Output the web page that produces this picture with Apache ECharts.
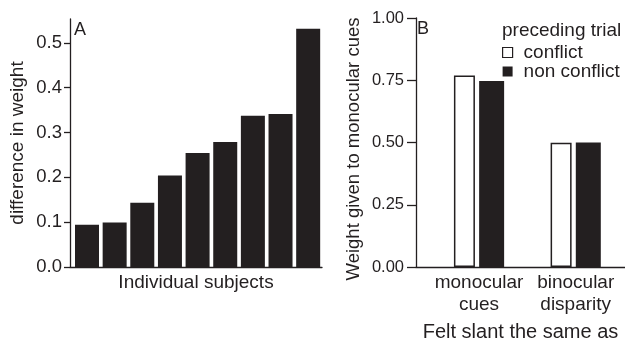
<!DOCTYPE html>
<html>
<head>
<meta charset="utf-8">
<script src="https://cdn.jsdelivr.net/npm/echarts@6/dist/echarts.min.js"></script>
<style>
  html, body { margin: 0; padding: 0; background: #fff; }
  #chart { width: 625px; height: 340px; }
</style>
</head>
<body>
<div id="chart"></div>
<script>
// Panel A: per-subject difference in weight, sorted ascending
const subjects = [1, 2, 3, 4, 5, 6, 7, 8, 9];
const weightDiff = [0.094, 0.099, 0.143, 0.204, 0.254, 0.279, 0.337, 0.341, 0.531];
const ticksA = [0, 0.1, 0.2, 0.3, 0.4, 0.5];

// Panel B: weight given to monocular cues, by felt slant and preceding trial
const slantCategories = ['monocular\ncues', 'binocular\ndisparity'];
const slantPositions = [1, 2];
const conflictWeights = [0.769, 0.499];
const nonConflictWeights = [0.747, 0.500];
const ticksB = [0, 0.25, 0.5, 0.75, 1];

const INK = '#231f20';
const FONT = 'Liberation Sans, Arial, Helvetica, sans-serif';

const chart = echarts.init(document.getElementById('chart'), null, { renderer: 'canvas' });

const axisLine = { show: true, lineStyle: { color: INK, width: 1.3 } };
const text = size => ({ color: INK, fontFamily: FONT, fontSize: size, fontWeight: 'normal' });

chart.setOption({
  animation: false,
  backgroundColor: '#fff',
  textStyle: { fontFamily: FONT, color: INK },
  title: [
    { text: 'A', left: 74, top: 21, textStyle: text(18), padding: 0 },
    { text: 'B', left: 417, top: 20, textStyle: text(18), padding: 0 },
    { text: 'preceding trial', left: 502, top: 21, textStyle: text(19), padding: 0 }
  ],
  legend: {
    data: [
      { name: 'conflict', itemStyle: { borderWidth: 1.2 } },
      { name: 'non conflict' }
    ],
    orient: 'vertical',
    left: 502,
    top: 43,
    itemWidth: 10,
    itemHeight: 10,
    itemGap: 0,
    icon: 'rect',
    padding: 0,
    textStyle: Object.assign(text(19), { lineHeight: 18, padding: [0, 0, 0, 6] })
  },
  grid: [
    { left: 70, top: 19, width: 252, height: 248, containLabel: false, outerBoundsMode: 'none' },
    { left: 416, top: 18, width: 209, height: 249, containLabel: false, outerBoundsMode: 'none' }
  ],
  xAxis: [
    {
      gridIndex: 0, type: 'value', min: 0.385, max: 9.5,
      name: 'Individual subjects', nameLocation: 'middle', nameGap: 6,
      nameTextStyle: text(19),
      axisLine: axisLine, axisTick: { show: false }, axisLabel: { show: false }, splitLine: { show: false }
    },
    {
      gridIndex: 1, type: 'value', min: 0.348, max: 2.51,
      name: 'Felt slant the same as', nameLocation: 'middle', nameGap: 55,
      nameTextStyle: text(20),
      axisLine: axisLine, axisTick: { show: false }, splitLine: { show: false },
      axisLabel: Object.assign(text(19), {
        customValues: slantPositions,
        lineHeight: 22,
        margin: 5,
        formatter: v => slantCategories[slantPositions.indexOf(v)] || ''
      })
    }
  ],
  yAxis: [
    {
      gridIndex: 0, type: 'value', min: 0, max: 0.553,
      name: 'difference in weight', nameLocation: 'middle', nameGap: 43, nameRotate: 90,
      nameTextStyle: text(19),
      axisLine: axisLine,
      axisTick: { show: true, length: 6, customValues: ticksA, lineStyle: { color: INK, width: 1.3 } },
      axisLabel: Object.assign(text(18.5), { customValues: ticksA, margin: 8, formatter: v => v.toFixed(1) }),
      splitLine: { show: false }
    },
    {
      gridIndex: 1, type: 'value', min: 0, max: 1, interval: 0.25,
      name: 'Weight given to monocular cues', nameLocation: 'middle', nameGap: 53, nameRotate: 90,
      nameTextStyle: Object.assign(text(18.5), { padding: [0, 13, 0, 0] }),
      axisLine: axisLine,
      axisTick: { show: true, length: 9, customValues: ticksB, lineStyle: { color: INK, width: 1.3 } },
      axisLabel: Object.assign(text(16.5), { customValues: ticksB, margin: 12, formatter: v => v.toFixed(2) }),
      splitLine: { show: false }
    }
  ],
  series: [
    {
      name: 'difference', type: 'bar', xAxisIndex: 0, yAxisIndex: 0,
      barWidth: 24,
      itemStyle: { color: INK },
      data: subjects.map((s, i) => [s, weightDiff[i]])
    },
    {
      name: 'conflict', type: 'bar', xAxisIndex: 1, yAxisIndex: 1,
      barWidth: 21, barGap: '20%',
      itemStyle: { color: '#ffffff', borderColor: INK, borderWidth: 1.5 },
      data: slantPositions.map((p, i) => [p, conflictWeights[i]])
    },
    {
      name: 'non conflict', type: 'bar', xAxisIndex: 1, yAxisIndex: 1,
      barWidth: 25, barGap: '20%',
      itemStyle: { color: INK },
      data: slantPositions.map((p, i) => [p, nonConflictWeights[i]])
    }
  ]
});
</script>
</body>
</html>
